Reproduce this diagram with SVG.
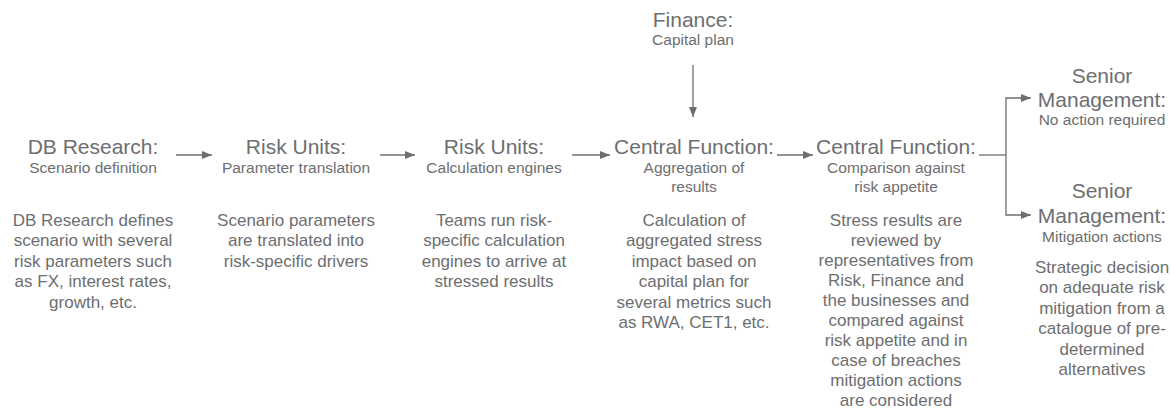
<svg xmlns="http://www.w3.org/2000/svg" width="1171" height="410" viewBox="0 0 1171 410">
  <style>
    text { font-family: "Liberation Sans", Arial, sans-serif; fill: #6d6e70; text-anchor: middle; }
    .t { font-size: 21px; }
    .s { font-size: 15.5px; }
    .b { font-size: 17px; }
    .ln { stroke: #6d6e70; stroke-width: 1.3; fill: none; }
  </style>
  <defs>
    <marker id="ah" markerUnits="userSpaceOnUse" markerWidth="10" markerHeight="10" viewBox="0 0 10 10" refX="10" refY="5" orient="auto">
      <path d="M0,1 L10,5 L0,9 Z" fill="#6d6e70"/>
    </marker>
  </defs>
  <rect width="1171" height="410" fill="#ffffff"/>

  <!-- connectors -->
  <g id="connectors">
    <line class="ln" x1="176" y1="155" x2="212" y2="155" marker-end="url(#ah)"/>
    <line class="ln" x1="380" y1="155" x2="415" y2="155" marker-end="url(#ah)"/>
    <line class="ln" x1="572" y1="155" x2="610" y2="155" marker-end="url(#ah)"/>
    <line class="ln" x1="777" y1="155" x2="813" y2="155" marker-end="url(#ah)"/>
    <line class="ln" x1="693" y1="65" x2="693" y2="117" marker-end="url(#ah)"/>
    <polyline class="ln" points="979,155 1006,155"/>
    <polyline class="ln" points="1030,98 1006,98 1006,215 1030,215"/>
    <line class="ln" x1="1020" y1="98" x2="1031" y2="98" marker-end="url(#ah)"/>
    <line class="ln" x1="1020" y1="215" x2="1031" y2="215" marker-end="url(#ah)"/>
  </g>

  <!-- step 1 -->
  <g id="db-research">
    <text class="t" x="93" y="154">DB Research:</text>
    <text class="s" x="93" y="173">Scenario definition</text>
    <text class="b" x="93" y="226">DB Research defines</text>
    <text class="b" x="93" y="246.4">scenario with several</text>
    <text class="b" x="93" y="266.8">risk parameters such</text>
    <text class="b" x="93" y="287.2">as FX, interest rates,</text>
    <text class="b" x="93" y="307.6">growth, etc.</text>
  </g>

  <!-- step 2 -->
  <g id="risk-units-translation">
    <text class="t" x="296" y="154">Risk Units:</text>
    <text class="s" x="296" y="173">Parameter translation</text>
    <text class="b" x="296" y="226">Scenario parameters</text>
    <text class="b" x="296" y="246.4">are translated into</text>
    <text class="b" x="296" y="266.8">risk-specific drivers</text>
  </g>

  <!-- step 3 -->
  <g id="risk-units-engines">
    <text class="t" x="494" y="154">Risk Units:</text>
    <text class="s" x="494" y="173">Calculation engines</text>
    <text class="b" x="494" y="226">Teams run risk-</text>
    <text class="b" x="494" y="246.4">specific calculation</text>
    <text class="b" x="494" y="266.8">engines to arrive at</text>
    <text class="b" x="494" y="287.2">stressed results</text>
  </g>

  <!-- capital plan input -->
  <g id="finance">
    <text class="t" x="693" y="27">Finance:</text>
    <text class="s" x="693" y="45">Capital plan</text>
  </g>

  <!-- step 4 -->
  <g id="central-aggregation">
    <text class="t" x="694" y="154">Central Function:</text>
    <text class="s" x="694" y="173">Aggregation of</text>
    <text class="s" x="694" y="192">results</text>
    <text class="b" x="694" y="226">Calculation of</text>
    <text class="b" x="694" y="246.4">aggregated stress</text>
    <text class="b" x="694" y="266.8">impact based on</text>
    <text class="b" x="694" y="287.2">capital plan for</text>
    <text class="b" x="694" y="307.6">several metrics such</text>
    <text class="b" x="694" y="328">as RWA, CET1, etc.</text>
  </g>

  <!-- step 5 -->
  <g id="central-comparison">
    <text class="t" x="896" y="154">Central Function:</text>
    <text class="s" x="896" y="173">Comparison against</text>
    <text class="s" x="896" y="192">risk appetite</text>
    <text class="b" x="896" y="225.5">Stress results are</text>
    <text class="b" x="896" y="245.6">reviewed by</text>
    <text class="b" x="896" y="265.7">representatives from</text>
    <text class="b" x="896" y="285.8">Risk, Finance and</text>
    <text class="b" x="896" y="305.9">the businesses and</text>
    <text class="b" x="896" y="326">compared against</text>
    <text class="b" x="896" y="346.1">risk appetite and in</text>
    <text class="b" x="896" y="366.2">case of breaches</text>
    <text class="b" x="896" y="386.3">mitigation actions</text>
    <text class="b" x="896" y="406.4">are considered</text>
  </g>

  <!-- outcome: no action -->
  <g id="mgmt-no-action">
    <text class="t" x="1102" y="83">Senior</text>
    <text class="t" x="1102" y="107">Management:</text>
    <text class="s" x="1102" y="125">No action required</text>
  </g>

  <!-- outcome: mitigation -->
  <g id="mgmt-mitigation">
    <text class="t" x="1102" y="198">Senior</text>
    <text class="t" x="1102" y="223">Management:</text>
    <text class="s" x="1102" y="242">Mitigation actions</text>
    <text class="b" x="1102" y="273">Strategic decision</text>
    <text class="b" x="1102" y="293.4">on adequate risk</text>
    <text class="b" x="1102" y="313.8">mitigation from a</text>
    <text class="b" x="1102" y="334.2">catalogue of pre-</text>
    <text class="b" x="1102" y="354.6">determined</text>
    <text class="b" x="1102" y="375">alternatives</text>
  </g>
</svg>
